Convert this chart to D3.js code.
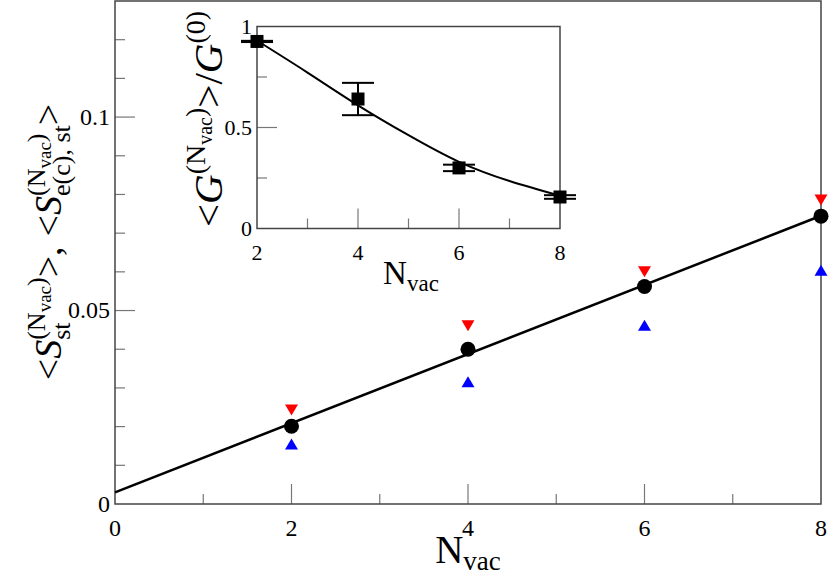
<!DOCTYPE html>
<html>
<head>
<meta charset="utf-8">
<script src="https://cdn.jsdelivr.net/npm/d3@7"></script>
<style>
  body { margin: 0; background: #fff; }
  svg, svg text { font-family: "Liberation Serif", "Times New Roman", "Nimbus Roman", "DejaVu Serif", serif; }
  svg text { white-space: pre; }
</style>
</head>
<body>
<svg id="chart" width="831" height="578" font-family="Liberation Serif, Times New Roman, serif"></svg>
<script>
// main panel data
var nVac = [2, 4, 6, 8];
var sAvg = [0.0201, 0.0400, 0.0562, 0.0744];      // black circles
var sRed = [0.0243, 0.0461, 0.0600, 0.0786];      // red down triangles
var sBlue = [0.0155, 0.0316, 0.0462, 0.0604];     // blue up triangles
var fitX = [0, 8];
var fitY = [0.003, 0.0745];
var xTicks = [0, 2, 4, 6, 8];
var yTicks = [0, 0.05, 0.1];
var yTickLabels = ["0", "0.05", "0.1"];

// inset data
var gX = [2, 4, 6, 8];
var gY = [0.926, 0.641, 0.300, 0.156];
var gErr = [0.003, 0.08, 0.016, 0.009];
var gCurveX = [2, 3, 4, 5, 6, 7, 8];
var gCurveY = [0.93, 0.772, 0.61, 0.462, 0.33, 0.235, 0.162];
var gxTicks = [2, 4, 6, 8];
var gyTicks = [0, 0.5, 1];

var FONT = "Liberation Serif, Times New Roman, serif";

var svg = d3.select("#chart");
svg.append("rect").attr("width", 831).attr("height", 578).attr("fill", "#fff");

var x = d3.scaleLinear().domain([0, 8]).range([115, 821]);
var y = d3.scaleLinear().domain([0, 0.13]).range([504, 1]);

var frameColor = "#444", tickColor = "#777";

// lays out pieces of a math label left to right, returns end x
function mathText(g, items, x0) {
    var cx = x0;
    items.forEach(function(it){
        if (it.gap) { cx += it.gap; return; }
        if (it.stack) {
            var ends = it.stack.map(function(seq){ return mathText(g, seq, cx); });
            cx = d3.max(ends);
            return;
        }
        var t = g.append("text")
            .attr("x", cx)
            .attr("y", it.dy || 0)
            .attr("font-family", FONT)
            .attr("font-size", it.s)
            .attr("font-style", it.i ? "italic" : null)
            .attr("fill", "#000")
            .text(it.t);
        cx += t.node().getComputedTextLength();
    });
    return cx;
}

function drawFrame(g, xs, ys) {
    g.append("rect")
        .attr("x", xs.range()[0]).attr("y", ys.range()[1])
        .attr("width", xs.range()[1] - xs.range()[0])
        .attr("height", ys.range()[0] - ys.range()[1])
        .attr("fill", "none").attr("stroke", frameColor).attr("stroke-width", 1.5);
}

function drawTicks(g, xs, ys, xMinor, xMajor, yMinor, yMajor) {
    var y0 = ys.range()[0], x0 = xs.range()[0];
    g.selectAll(null).data(xMinor).enter().append("line")
        .attr("x1", xs).attr("x2", xs).attr("y1", y0).attr("y2", y0 - 10)
        .attr("stroke", tickColor).attr("stroke-width", 1.2);
    g.selectAll(null).data(xMajor).enter().append("line")
        .attr("x1", xs).attr("x2", xs).attr("y1", y0).attr("y2", y0 - 20)
        .attr("stroke", tickColor).attr("stroke-width", 1.2);
    g.selectAll(null).data(yMinor).enter().append("line")
        .attr("y1", ys).attr("y2", ys).attr("x1", x0).attr("x2", x0 + 10)
        .attr("stroke", tickColor).attr("stroke-width", 1.2);
    g.selectAll(null).data(yMajor).enter().append("line")
        .attr("y1", ys).attr("y2", ys).attr("x1", x0).attr("x2", x0 + 20)
        .attr("stroke", tickColor).attr("stroke-width", 1.2);
}

function triangle(cx, cy, down) {
    var h = 11, w = 6.5, s = down ? -1 : 1;
    return "M" + (cx - w) + "," + (cy + s * h / 2) + "L" + (cx + w) + "," + (cy + s * h / 2) +
        "L" + cx + "," + (cy - s * h / 2) + "Z";
}

// ---------- main panel ----------
var main = svg.append("g");
drawTicks(main, x, y, [1, 3, 5, 7], [2, 4, 6],
    d3.range(1, 13).map(function(i){ return i / 100; }).filter(function(v){ return Math.abs(v - 0.05) > 1e-9 && Math.abs(v - 0.1) > 1e-9; }),
    [0.05, 0.1]);
drawFrame(main, x, y);

main.append("path")
    .datum(d3.zip(fitX, fitY))
    .attr("fill", "none").attr("stroke", "#000").attr("stroke-width", 2.5)
    .attr("d", d3.line().x(function(d){ return x(d[0]); }).y(function(d){ return y(d[1]); }));

main.selectAll(null).data(d3.zip(nVac, sRed)).enter().append("path")
    .attr("fill", "#ff0000")
    .attr("d", function(d){ return triangle(x(d[0]), y(d[1]), true); });
main.selectAll(null).data(d3.zip(nVac, sBlue)).enter().append("path")
    .attr("fill", "#0000ff")
    .attr("d", function(d){ return triangle(x(d[0]), y(d[1]), false); });
main.selectAll(null).data(d3.zip(nVac, sAvg)).enter().append("circle")
    .attr("cx", function(d){ return x(d[0]); })
    .attr("cy", function(d){ return y(d[1]); })
    .attr("r", 7.5).attr("fill", "#000");

main.selectAll(null).data(xTicks).enter().append("text")
    .attr("x", x).attr("y", 536)
    .attr("font-family", FONT)
    .attr("text-anchor", "middle").attr("font-size", 24)
    .text(function(d){ return d; });
main.selectAll(null).data(yTicks).enter().append("text")
    .attr("x", 110).attr("y", y).attr("dy", "0.33em")
    .attr("font-family", FONT)
    .attr("text-anchor", "end").attr("font-size", 24)
    .text(function(d, i){ return yTickLabels[i]; });

// x title
var xt = main.append("g");
var xtw = mathText(xt, [{t: "N", s: 39}, {t: "vac", s: 27, dy: 7}], 0);
xt.attr("transform", "translate(" + (468 - xtw / 2) + ",563)");

// y title
var supN = [{t: "(N", s: 26, dy: -16}, {t: "vac", s: 19, dy: -10}, {t: ")", s: 26, dy: -16}];
var yt = main.append("g");
var ytw = mathText(yt, [
    {t: "<", s: 38}, {t: "S", s: 38, i: true},
    {stack: [supN, [{t: "st", s: 26, dy: 9}]]},
    {t: ">", s: 38}, {t: ",", s: 38}, {gap: 10},
    {t: "<", s: 38}, {t: "S", s: 38, i: true},
    {stack: [supN, [{t: "e(c), st", s: 26, dy: 9}]]},
    {t: ">", s: 38}
], 0);
yt.attr("transform", "translate(61,242) rotate(-90) translate(" + (-ytw / 2) + ",0)");

// ---------- inset ----------
var ix = d3.scaleLinear().domain([2, 8]).range([257, 560]);
var iy = d3.scaleLinear().domain([0, 1]).range([228.5, 26.5]);
var inset = svg.append("g");
inset.append("rect")
    .attr("x", 257).attr("y", 26.5).attr("width", 303).attr("height", 202)
    .attr("fill", "#fff");
drawTicks(inset, ix, iy, [3, 5, 7], [4, 6], [0.25, 0.75], [0.5]);
drawFrame(inset, ix, iy);

inset.append("path")
    .datum(d3.zip(gCurveX, gCurveY))
    .attr("fill", "none").attr("stroke", "#000").attr("stroke-width", 2)
    .attr("d", d3.line().curve(d3.curveNatural)
        .x(function(d){ return ix(d[0]); }).y(function(d){ return iy(d[1]); }));

var pts = d3.zip(gX, gY, gErr);
var eb = inset.selectAll(null).data(pts).enter().append("g")
    .attr("stroke", "#000").attr("stroke-width", 2);
eb.append("line")
    .attr("x1", function(d){ return ix(d[0]); }).attr("x2", function(d){ return ix(d[0]); })
    .attr("y1", function(d){ return iy(d[1] - d[2]); }).attr("y2", function(d){ return iy(d[1] + d[2]); });
eb.append("line")
    .attr("x1", function(d){ return ix(d[0]) - 16; }).attr("x2", function(d){ return ix(d[0]) + 16; })
    .attr("y1", function(d){ return iy(d[1] + d[2]); }).attr("y2", function(d){ return iy(d[1] + d[2]); });
eb.append("line")
    .attr("x1", function(d){ return ix(d[0]) - 16; }).attr("x2", function(d){ return ix(d[0]) + 16; })
    .attr("y1", function(d){ return iy(d[1] - d[2]); }).attr("y2", function(d){ return iy(d[1] - d[2]); });
inset.selectAll(null).data(pts).enter().append("rect")
    .attr("x", function(d){ return ix(d[0]) - 6.5; })
    .attr("y", function(d){ return iy(d[1]) - 6.5; })
    .attr("width", 13).attr("height", 13).attr("fill", "#000");

inset.selectAll(null).data(gxTicks).enter().append("text")
    .attr("x", ix).attr("y", 260)
    .attr("font-family", FONT)
    .attr("text-anchor", "middle").attr("font-size", 22)
    .text(function(d){ return d; });
inset.selectAll(null).data(gyTicks).enter().append("text")
    .attr("x", 252).attr("y", iy).attr("dy", "0.33em")
    .attr("font-family", FONT)
    .attr("text-anchor", "end").attr("font-size", 22)
    .text(function(d){ return d; });

var ixt = inset.append("g");
var ixtw = mathText(ixt, [{t: "N", s: 33}, {t: "vac", s: 23, dy: 7}], 0);
ixt.attr("transform", "translate(" + (411 - ixtw / 2) + ",284)");

var iyt = inset.append("g");
var iytw = mathText(iyt, [
    {t: "<", s: 41}, {t: "G", s: 41, i: true},
    {t: "(N", s: 28, dy: -17}, {t: "vac", s: 20, dy: -10}, {t: ")", s: 28, dy: -17},
    {t: ">", s: 41}, {t: "/", s: 41}, {t: "G", s: 41, i: true},
    {t: "(0)", s: 28, dy: -17}
], 0);
iyt.attr("transform", "translate(222,119) rotate(-90) translate(" + (-iytw / 2) + ",0)");
</script>
</body>
</html>
